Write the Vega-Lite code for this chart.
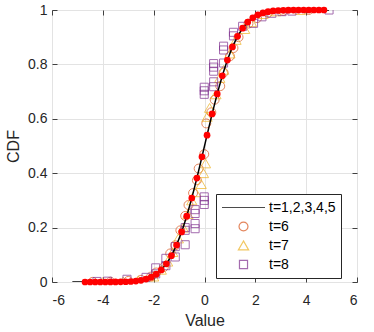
{
  "$schema": "https://vega.github.io/schema/vega-lite/v6.json",
  "width": 305,
  "height": 272,
  "autosize": {"type": "none"},
  "padding": {"left": 52, "top": 10, "right": 17, "bottom": 50},
  "background": "white",
  "config": {
    "font": "Liberation Sans",
    "view": {"stroke": "#404040", "strokeWidth": 1},
    "axis": {
      "labelFontSize": 14,
      "titleFontSize": 16,
      "titleFontWeight": "normal",
      "labelColor": "#262626",
      "titleColor": "#262626",
      "domainColor": "#404040",
      "tickColor": "#404040",
      "gridColor": "#e3e3e3",
      "labelFont": "Liberation Sans",
      "titleFont": "Liberation Sans"
    },
    "legend": {
      "labelFont": "Liberation Sans",
      "title": null,
      "orient": "none",
      "legendX": 164,
      "legendY": 184,
      "direction": "vertical",
      "fillColor": "white",
      "strokeColor": "#262626",
      "padding": 5,
      "columnPadding": 0,
      "symbolStrokeWidth": 1.2,
      "clipHeight": 17,
      "rowPadding": 2,
      "labelOffset": 3,
      "labelFontSize": 14,
      "labelColor": "#000000"
    }
  },
  "datasets": {
    "line": [
      {"x": -5.2, "y": 0}, {"x": -4.9, "y": 0}, {"x": -4.7, "y": 0.000001}, {"x": -4.5, "y": 0.000003}, {"x": -4.3, "y": 0.000009},
      {"x": -4.1, "y": 0.00002}, {"x": -3.9, "y": 0.00005}, {"x": -3.7, "y": 0.00011}, {"x": -3.5, "y": 0.00023},
      {"x": -3.3, "y": 0.00048}, {"x": -3.1, "y": 0.00097}, {"x": -2.9, "y": 0.00187}, {"x": -2.7, "y": 0.00347},
      {"x": -2.5, "y": 0.00621}, {"x": -2.3, "y": 0.01072}, {"x": -2.1, "y": 0.01786}, {"x": -1.9, "y": 0.02872},
      {"x": -1.7, "y": 0.04457}, {"x": -1.5, "y": 0.06681}, {"x": -1.3, "y": 0.0968}, {"x": -1.1, "y": 0.1357},
      {"x": -0.9, "y": 0.1841}, {"x": -0.7, "y": 0.242}, {"x": -0.5, "y": 0.3085}, {"x": -0.3, "y": 0.3821},
      {"x": -0.1, "y": 0.4602}, {"x": 0.1, "y": 0.5398}, {"x": 0.3, "y": 0.6179}, {"x": 0.5, "y": 0.6915},
      {"x": 0.7, "y": 0.758}, {"x": 0.9, "y": 0.8159}, {"x": 1.1, "y": 0.8643}, {"x": 1.3, "y": 0.9032},
      {"x": 1.5, "y": 0.9332}, {"x": 1.7, "y": 0.9554}, {"x": 1.9, "y": 0.9713}, {"x": 2.1, "y": 0.9821},
      {"x": 2.3, "y": 0.9893}, {"x": 2.5, "y": 0.9938}, {"x": 2.7, "y": 0.9965}, {"x": 2.9, "y": 0.9981},
      {"x": 3.1, "y": 0.999}, {"x": 3.3, "y": 0.9995}, {"x": 3.5, "y": 0.9998}, {"x": 3.7, "y": 0.9999},
      {"x": 3.9, "y": 1}, {"x": 4.1, "y": 1}, {"x": 4.3, "y": 1}, {"x": 4.5, "y": 1}, {"x": 4.7, "y": 1}, {"x": 4.9, "y": 1}
    ],
    "dots": [
      {"x": -4.7, "y": 0.000001}, {"x": -4.5, "y": 0.000003}, {"x": -4.3, "y": 0.000009},
      {"x": -4.1, "y": 0.00002}, {"x": -3.9, "y": 0.00005}, {"x": -3.7, "y": 0.00011}, {"x": -3.5, "y": 0.00023},
      {"x": -3.3, "y": 0.00048}, {"x": -3.1, "y": 0.00097}, {"x": -2.9, "y": 0.00187}, {"x": -2.7, "y": 0.00347},
      {"x": -2.5, "y": 0.00621}, {"x": -2.3, "y": 0.01072}, {"x": -2.1, "y": 0.01786}, {"x": -1.9, "y": 0.02872},
      {"x": -1.7, "y": 0.04457}, {"x": -1.5, "y": 0.06681}, {"x": -1.3, "y": 0.0968}, {"x": -1.1, "y": 0.1357},
      {"x": -0.9, "y": 0.1841}, {"x": -0.7, "y": 0.242}, {"x": -0.5, "y": 0.3085}, {"x": -0.3, "y": 0.3821},
      {"x": -0.1, "y": 0.4602}, {"x": 0.1, "y": 0.5398}, {"x": 0.3, "y": 0.6179}, {"x": 0.5, "y": 0.6915},
      {"x": 0.7, "y": 0.758}, {"x": 0.9, "y": 0.8159}, {"x": 1.1, "y": 0.8643}, {"x": 1.3, "y": 0.9032},
      {"x": 1.5, "y": 0.9332}, {"x": 1.7, "y": 0.9554}, {"x": 1.9, "y": 0.9713}, {"x": 2.1, "y": 0.9821},
      {"x": 2.3, "y": 0.9893}, {"x": 2.5, "y": 0.9938}, {"x": 2.7, "y": 0.9965}, {"x": 2.9, "y": 0.9981},
      {"x": 3.1, "y": 0.999}, {"x": 3.3, "y": 0.9995}, {"x": 3.5, "y": 0.9998}, {"x": 3.7, "y": 0.9999},
      {"x": 3.9, "y": 1}, {"x": 4.1, "y": 1}, {"x": 4.3, "y": 1}, {"x": 4.5, "y": 1}, {"x": 4.7, "y": 1}
    ],
    "samples": [
      {"series": "t=6", "x": -4.4, "y": 0.0005}, {"series": "t=6", "x": -3.7, "y": 0.001}, {"series": "t=6", "x": -3.0, "y": 0.004},
      {"series": "t=6", "x": -2.5, "y": 0.008}, {"series": "t=6", "x": -2.1, "y": 0.02}, {"series": "t=6", "x": -1.9, "y": 0.035},
      {"series": "t=6", "x": -1.6, "y": 0.055}, {"series": "t=6", "x": -1.35, "y": 0.105}, {"series": "t=6", "x": -1.15, "y": 0.135},
      {"series": "t=6", "x": -0.95, "y": 0.19}, {"series": "t=6", "x": -0.76, "y": 0.243}, {"series": "t=6", "x": -0.63, "y": 0.283},
      {"series": "t=6", "x": -0.45, "y": 0.327}, {"series": "t=6", "x": -0.3, "y": 0.374}, {"series": "t=6", "x": -0.23, "y": 0.417},
      {"series": "t=6", "x": -0.01, "y": 0.47}, {"series": "t=6", "x": 0.07, "y": 0.583}, {"series": "t=6", "x": 0.27, "y": 0.624},
      {"series": "t=6", "x": 0.4, "y": 0.67}, {"series": "t=6", "x": 0.62, "y": 0.72}, {"series": "t=6", "x": 0.75, "y": 0.77},
      {"series": "t=6", "x": 1.0, "y": 0.83}, {"series": "t=6", "x": 1.14, "y": 0.86}, {"series": "t=6", "x": 1.34, "y": 0.9},
      {"series": "t=6", "x": 1.73, "y": 0.95}, {"series": "t=6", "x": 2.07, "y": 0.97}, {"series": "t=6", "x": 2.5, "y": 0.99},
      {"series": "t=6", "x": 3.1, "y": 0.997}, {"series": "t=6", "x": 4.1, "y": 1.0},
      {"series": "t=7", "x": -4.0, "y": 0.0005}, {"series": "t=7", "x": -3.2, "y": 0.002}, {"series": "t=7", "x": -2.6, "y": 0.006},
      {"series": "t=7", "x": -2.0, "y": 0.02}, {"series": "t=7", "x": -1.7, "y": 0.045}, {"series": "t=7", "x": -1.45, "y": 0.075},
      {"series": "t=7", "x": -1.25, "y": 0.11}, {"series": "t=7", "x": -1.03, "y": 0.16}, {"series": "t=7", "x": -0.84, "y": 0.2},
      {"series": "t=7", "x": -0.65, "y": 0.25}, {"series": "t=7", "x": -0.5, "y": 0.3}, {"series": "t=7", "x": -0.35, "y": 0.33},
      {"series": "t=7", "x": -0.13, "y": 0.36}, {"series": "t=7", "x": -0.04, "y": 0.4}, {"series": "t=7", "x": 0.04, "y": 0.436},
      {"series": "t=7", "x": 0.1, "y": 0.607}, {"series": "t=7", "x": 0.2, "y": 0.64}, {"series": "t=7", "x": 0.45, "y": 0.69},
      {"series": "t=7", "x": 0.6, "y": 0.75}, {"series": "t=7", "x": 0.75, "y": 0.78}, {"series": "t=7", "x": 1.0, "y": 0.84},
      {"series": "t=7", "x": 1.24, "y": 0.89}, {"series": "t=7", "x": 1.58, "y": 0.93}, {"series": "t=7", "x": 1.85, "y": 0.955},
      {"series": "t=7", "x": 2.3, "y": 0.985}, {"series": "t=7", "x": 2.8, "y": 0.995}, {"series": "t=7", "x": 3.77, "y": 1.0},
      {"series": "t=8", "x": -4.23, "y": 0.002}, {"series": "t=8", "x": -3.81, "y": 0.003}, {"series": "t=8", "x": -3.05, "y": 0.01},
      {"series": "t=8", "x": -2.3, "y": 0.017}, {"series": "t=8", "x": -1.92, "y": 0.03}, {"series": "t=8", "x": -1.92, "y": 0.052},
      {"series": "t=8", "x": -1.52, "y": 0.06}, {"series": "t=8", "x": -1.52, "y": 0.087}, {"series": "t=8", "x": -1.15, "y": 0.092},
      {"series": "t=8", "x": -1.15, "y": 0.13}, {"series": "t=8", "x": -0.76, "y": 0.137}, {"series": "t=8", "x": -0.76, "y": 0.19},
      {"series": "t=8", "x": -0.76, "y": 0.2}, {"series": "t=8", "x": -0.37, "y": 0.196}, {"series": "t=8", "x": -0.37, "y": 0.215},
      {"series": "t=8", "x": -0.37, "y": 0.252}, {"series": "t=8", "x": -0.37, "y": 0.266}, {"series": "t=8", "x": -0.01, "y": 0.285},
      {"series": "t=8", "x": -0.01, "y": 0.3}, {"series": "t=8", "x": -0.01, "y": 0.313}, {"series": "t=8", "x": -0.01, "y": 0.69},
      {"series": "t=8", "x": -0.01, "y": 0.703}, {"series": "t=8", "x": -0.01, "y": 0.716}, {"series": "t=8", "x": 0.36, "y": 0.718},
      {"series": "t=8", "x": 0.36, "y": 0.736}, {"series": "t=8", "x": 0.36, "y": 0.775}, {"series": "t=8", "x": 0.36, "y": 0.79},
      {"series": "t=8", "x": 0.36, "y": 0.803}, {"series": "t=8", "x": 0.75, "y": 0.805}, {"series": "t=8", "x": 0.75, "y": 0.853},
      {"series": "t=8", "x": 0.75, "y": 0.867}, {"series": "t=8", "x": 1.14, "y": 0.905}, {"series": "t=8", "x": 1.14, "y": 0.918},
      {"series": "t=8", "x": 1.5, "y": 0.94}, {"series": "t=8", "x": 1.93, "y": 0.951}, {"series": "t=8", "x": 2.26, "y": 0.975},
      {"series": "t=8", "x": 2.65, "y": 0.988}, {"series": "t=8", "x": 3.05, "y": 0.994}, {"series": "t=8", "x": 3.44, "y": 0.996},
      {"series": "t=8", "x": 4.9, "y": 1.0}
    ]
  },
  "layer": [
    {
      "data": {"name": "samples"},
      "mark": {"type": "point", "filled": false, "strokeWidth": 1, "clip": true},
      "encoding": {
        "x": {"field": "x", "type": "quantitative", "scale": {"domain": [-6, 6], "nice": false, "zero": false}, "axis": null},
        "y": {"field": "y", "type": "quantitative", "scale": {"domain": [0, 1], "nice": false}, "axis": null},
        "color": {
          "field": "series", "type": "nominal",
          "scale": {"domain": ["t=1,2,3,4,5", "t=6", "t=7", "t=8"], "range": ["#000000", "#D95319", "#EDB120", "#7E2F8E"]}
        },
        "shape": {
          "field": "series", "type": "nominal",
          "scale": {"domain": ["t=1,2,3,4,5", "t=6", "t=7", "t=8"], "range": ["stroke", "circle", "triangle-up", "square"]}
        },
        "size": {
          "field": "series", "type": "nominal",
          "scale": {"type": "ordinal", "domain": ["t=1,2,3,4,5", "t=6", "t=7", "t=8"], "range": [1849, 80, 105, 65]}
        }
      }
    },
    {
      "data": {"name": "line"},
      "mark": {"type": "line", "color": "#000000", "strokeWidth": 1.5, "clip": true},
      "encoding": {
        "x": {"field": "x", "type": "quantitative",
          "axis": {"values": [-6, -4, -2, 0, 2, 4, 6], "labelExpr": "'' + datum.value", "title": "Value", "grid": true, "tickSize": -5, "labelPadding": 16, "titlePadding": 5, "domain": false}},
        "y": {"field": "y", "type": "quantitative",
          "axis": {"values": [0, 0.2, 0.4, 0.6, 0.8, 1], "labelExpr": "'' + datum.value", "title": "CDF", "grid": true, "tickSize": -5, "labelPadding": 10, "titlePadding": 6, "domain": false}}
      }
    },
    {
      "data": {"name": "dots"},
      "mark": {"type": "circle", "color": "#FF0000", "size": 45, "opacity": 1},
      "encoding": {
        "x": {"field": "x", "type": "quantitative",
          "axis": {"orient": "top", "values": [-6, -4, -2, 0, 2, 4, 6], "labels": false, "title": null, "grid": false, "tickSize": -5, "domain": false}},
        "y": {"field": "y", "type": "quantitative",
          "axis": {"orient": "right", "values": [0, 0.2, 0.4, 0.6, 0.8, 1], "labels": false, "title": null, "grid": false, "tickSize": -5, "domain": false}}
      }
    }
  ],
  "resolve": {"axis": {"x": "independent", "y": "independent"}}
}
